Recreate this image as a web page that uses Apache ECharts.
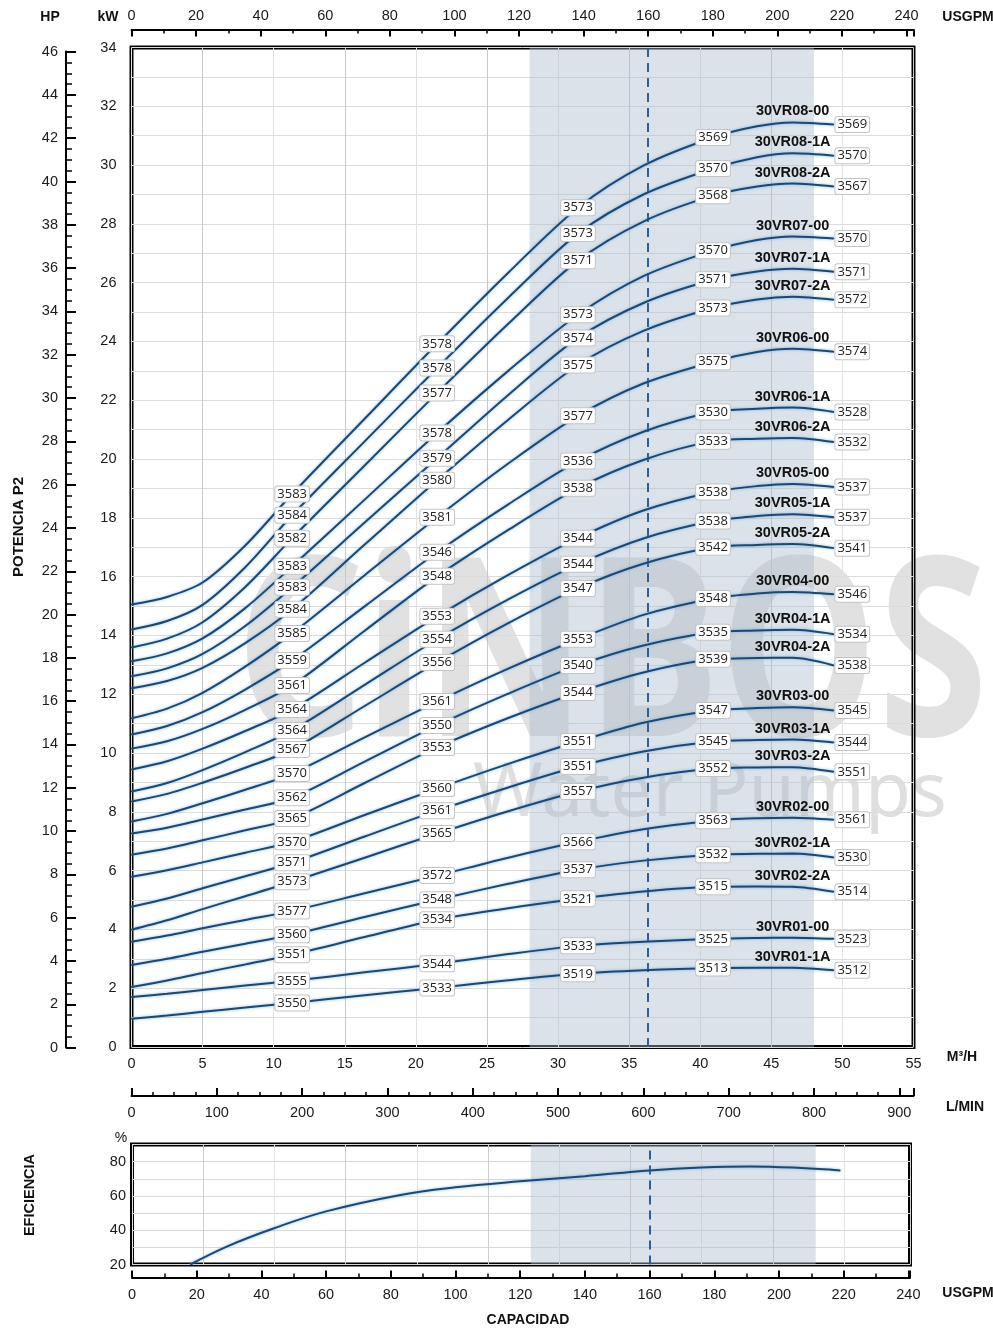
<!DOCTYPE html>
<html><head><meta charset="utf-8">
<script src="https://cdn.jsdelivr.net/npm/echarts@6/dist/echarts.min.js"></script>
<style>html,body{margin:0;padding:0;background:#fff}#c{width:993px;height:1335px}</style>
</head><body><div id="c"></div>
<script>
const NARROW = '"Liberation Sans","Arial",sans-serif';
const BOXFONT = '"Open Sans","Noto Sans",sans-serif';

// ---------- DATA ----------
const curveNames = ['30VR08-00','30VR08-1A','30VR08-2A','30VR07-00','30VR07-1A','30VR07-2A','30VR06-00','30VR06-1A','30VR06-2A','30VR05-00','30VR05-1A','30VR05-2A','30VR04-00','30VR04-1A','30VR04-2A','30VR03-00','30VR03-1A','30VR03-2A','30VR02-00','30VR02-1A','30VR02-2A','30VR01-00','30VR01-1A'];
// flow (m3/h) where power is read
const flowPts = [0, 2.5, 5, 8, 11.3, 16.4, 21.5, 26.5, 31.4, 36, 40.9, 44, 46.5, 49.4];
// power P2 (kW) read at each flow point: one array per flow point, one value per curve (same order as curveNames)
const kwQ0   = [15.05,14.20,13.59,13.12,12.61,12.20,11.18,10.63,10.15,9.44,8.69,8.35,7.67,7.26,6.54,5.79,4.77,3.99,3.58,2.79,2.04,1.70,0.96];
const kwQ2_5 = [15.31,14.49,13.89,13.39,12.88,12.45,11.51,10.92,10.40,9.72,8.98,8.61,7.93,7.46,6.75,6.01,5.05,4.31,3.79,3.00,2.26,1.81,1.07];
const kwQ5   = [15.80,15.04,14.45,13.90,13.37,12.90,12.05,11.39,10.82,10.15,9.42,8.99,8.29,7.74,7.03,6.28,5.40,4.69,4.04,3.24,2.52,1.94,1.20];
const kwQ8   = [17.06,16.32,15.65,14.93,14.32,13.74,12.94,12.16,11.47,10.75,10.03,9.50,8.75,8.08,7.37,6.61,5.81,5.13,4.32,3.51,2.81,2.09,1.34];
const kwQ11  = [18.81,18.09,17.31,16.35,15.64,14.89,14.07,13.15,12.30,11.48,10.77,10.12,9.30,8.48,7.77,6.98,6.27,5.62,4.63,3.82,3.14,2.25,1.50];
const kwQ16  = [21.37,20.60,19.78,18.62,17.84,17.09,16.05,14.99,14.16,13.07,12.32,11.60,10.53,9.71,8.98,7.89,7.16,6.44,5.23,4.42,3.74,2.54,1.76];
const kwQ21  = [23.92,23.10,22.25,20.89,20.03,19.28,18.02,16.83,16.01,14.65,13.87,13.08,11.75,10.94,10.19,8.79,8.04,7.26,5.83,5.01,4.33,2.83,2.01];
const kwQ26  = [26.34,25.49,24.60,23.00,22.18,21.34,19.85,18.46,17.59,16.06,15.23,14.42,12.87,12.02,11.19,9.63,8.83,8.02,6.44,5.55,4.72,3.16,2.27];
const kwQ31  = [28.55,27.67,26.75,24.91,24.12,23.20,21.47,19.93,19.01,17.31,16.42,15.60,13.87,12.98,12.06,10.39,9.54,8.69,6.98,6.03,5.04,3.44,2.49];
const kwQ36  = [29.98,29.00,28.08,26.22,25.31,24.36,22.57,20.93,19.97,18.25,17.30,16.44,14.70,13.66,12.74,11.03,10.05,9.16,7.41,6.34,5.29,3.58,2.61];
const kwQ41  = [30.94,29.88,28.96,27.09,26.10,25.14,23.31,21.60,20.61,18.88,17.89,17.00,15.26,14.11,13.19,11.45,10.39,9.47,7.70,6.54,5.45,3.68,2.69];
const kwQ44  = [31.32,30.27,29.27,27.45,26.38,25.43,23.64,21.71,20.69,19.08,18.06,17.08,15.43,14.17,13.23,11.53,10.44,9.51,7.78,6.57,5.46,3.71,2.70];
const kwQ46  = [31.45,30.40,29.37,27.57,26.47,25.52,23.75,21.75,20.72,19.15,18.12,17.11,15.48,14.19,13.24,11.56,10.46,9.52,7.80,6.58,5.45,3.72,2.70];
const kwQ49  = [31.38,30.32,29.27,27.50,26.37,25.42,23.65,21.60,20.58,19.05,18.02,16.97,15.40,14.04,12.98,11.45,10.36,9.36,7.73,6.45,5.28,3.68,2.61];
// speed labels (rpm) shown on the curves
const rpmQ11 = [3583,3584,3582,3583,3583,3584,3585,3559,3561,3564,3564,3567,3570,3562,3565,3570,3571,3573,3577,3560,3551,3555,3550];
const rpmQ21 = [3578,3578,3577,3578,3579,3580,3581,3546,3548,3553,3554,3556,3561,3550,3553,3560,3561,3565,3572,3548,3534,3544,3533];
const rpmQ31 = [3573,3573,3571,3573,3574,3575,3577,3536,3538,3544,3544,3547,3553,3540,3544,3551,3551,3557,3566,3537,3521,3533,3519];
const rpmQ41 = [3569,3570,3568,3570,3571,3573,3575,3530,3533,3538,3538,3542,3548,3535,3539,3547,3545,3552,3563,3532,3515,3525,3513];
const rpmQ49 = [3569,3570,3567,3570,3571,3572,3574,3528,3532,3537,3537,3541,3546,3534,3538,3545,3544,3551,3561,3530,3514,3523,3512];
// efficiency curve
const effFlowUsgpm = [18, 30, 43.7, 60, 83, 100, 120, 140, 160, 176, 191, 207, 219];
const effPct       = [20, 31, 41, 51, 60.6, 65, 68.5, 71.5, 74.9, 76.6, 77.2, 76.3, 74.9];
// ranges / ticks
const flowMaxM3h = 55;
const usgpmPerM3h = 4.402867;
const lpmPerM3h = 1000/60;
const shadeRangeM3h = [28, 48];
const bepUsgpm = 160;
const kwRange = [0, 34];
const hpRange = [0, 46];
const effRange = [20, 90];

// ---------- BUILD ----------
const kwCols = [kwQ0,kwQ2_5,kwQ5,kwQ8,kwQ11,kwQ16,kwQ21,kwQ26,kwQ31,kwQ36,kwQ41,kwQ44,kwQ46,kwQ49];
const rpmCols = {4: rpmQ11, 6: rpmQ21, 8: rpmQ31, 10: rpmQ41, 13: rpmQ49};
const NAME_IDX = 12, END_IDX = 13;
const lineCol = '#1b4874';
const lineStyle = {color: lineCol, width: 2, shadowColor: 'rgba(90,160,225,0.75)', shadowBlur: 3};
const boxLabel = {show: true, fontFamily: BOXFONT, fontSize: 13, color: '#222', backgroundColor: '#fff',
  borderColor: '#c4c4c4', borderWidth: 1, borderRadius: 2, padding: [1, 2, 0, 2], lineHeight: 14};
const axisText = {fontFamily: NARROW, fontSize: 14.5, color: '#1a1a1a'};
const mult = (step) => (v) => (Math.abs(v / step - Math.round(v / step)) < 1e-6 ? String(Math.round(v)) : '');

const curveSeries = curveNames.map((name, i) => ({
  type: 'line', name, xAxisIndex: 0, yAxisIndex: 0, smooth: 0.3, symbol: 'circle', symbolSize: 1,
  z: 5, silent: true, lineStyle, itemStyle: {color: lineCol}, label: {show: false},
  emphasis: {disabled: true},
  data: flowPts.map((q, j) => {
    const item = {value: [q, kwCols[j][i]]};
    if (rpmCols[j]) {
      item.label = Object.assign({}, boxLabel, {position: j === END_IDX ? 'right' : 'inside', distance: j === END_IDX ? 1 : 0,
        formatter: String(rpmCols[j][i])});
    }
    if (j === NAME_IDX) {
      item.label = {show: true, position: 'top', distance: 3, formatter: name, fontFamily: NARROW,
        fontWeight: 'bold', fontSize: 14.5, color: '#111'};
    }
    return item;
  })
}));

const bepM3h = bepUsgpm / usgpmPerM3h;
const shadeStyle = {color: 'rgba(170,185,205,0.42)'};
const bepLine = {silent: true, symbol: ['none', 'none'], label: {show: false},
  lineStyle: {type: [9, 6], color: '#2b5f99', width: 2}, data: [{xAxis: bepM3h}]};

const effUsgpmMax = 240.5;
const titleFont = 'bold 14px ' + NARROW;
const ctr = {textAlign: 'center', textVerticalAlign: 'middle', align: 'center', verticalAlign: 'middle'};

const option = {
  animation: false,
  backgroundColor: '#fff',
  grid: [
    {left: 131.5, top: 47.5, width: 782, height: 999.5, show: true, borderColor: '#000', borderWidth: 4},
    {left: 66, top: 51.6, width: 1, height: 996},
    {left: 132, top: 1144.5, width: 778, height: 120, show: true, borderColor: '#000', borderWidth: 4},
    {left: 131.5, top: 1086, width: 782, height: 10}
  ],
  xAxis: [
    {gridIndex: 0, type: 'value', position: 'bottom', min: 0, max: flowMaxM3h, interval: 5,
      axisLine: {show: false}, axisTick: {show: false},
      axisLabel: Object.assign({margin: 9}, axisText),
      splitLine: {show: true, lineStyle: {color: ['#e2e2e2', '#c9c9c9'], width: 1}}},
    {gridIndex: 0, type: 'value', position: 'top', offset: 18, min: 0, max: flowMaxM3h * usgpmPerM3h, interval: 20,
      axisLine: {show: true, lineStyle: {color: '#000', width: 2}},
      axisTick: {show: true, inside: true, length: 7, lineStyle: {color: '#000', width: 2}},
      minorTick: {show: true, splitNumber: 2, length: 4, lineStyle: {color: '#000', width: 1.5}},
      axisLabel: Object.assign({margin: 6, formatter: mult(20)}, axisText),
      splitLine: {show: false}},
    {gridIndex: 1, type: 'value', show: false, min: 0, max: 1},
    {gridIndex: 3, type: 'value', position: 'bottom', min: 0, max: flowMaxM3h * lpmPerM3h, interval: 100,
      axisLine: {show: true, lineStyle: {color: '#000', width: 2}},
      axisTick: {show: true, inside: true, length: 8, lineStyle: {color: '#000', width: 2}},
      minorTick: {show: true, splitNumber: 4, length: 4, lineStyle: {color: '#000', width: 1.5}},
      axisLabel: Object.assign({margin: 9, formatter: mult(100)}, axisText),
      splitLine: {show: false}},
    {gridIndex: 2, type: 'value', position: 'bottom', offset: 13, min: 0, max: effUsgpmMax, interval: 20,
      axisLine: {show: true, lineStyle: {color: '#000', width: 2}},
      axisTick: {show: true, inside: true, length: 7, lineStyle: {color: '#000', width: 2}},
      minorTick: {show: true, splitNumber: 2, length: 4, lineStyle: {color: '#000', width: 1.5}},
      axisLabel: Object.assign({margin: 10, formatter: mult(20)}, axisText),
      splitLine: {show: false}},
    {gridIndex: 2, type: 'value', position: 'top', min: 0, max: effUsgpmMax / usgpmPerM3h, interval: 5,
      axisLine: {show: false}, axisTick: {show: false}, axisLabel: {show: false},
      splitLine: {show: true, lineStyle: {color: ['#e4e4e4', '#cfcfcf'], width: 1}}}
  ],
  yAxis: [
    {gridIndex: 0, type: 'value', min: kwRange[0], max: kwRange[1], interval: 1,
      axisLine: {show: false}, axisTick: {show: false},
      axisLabel: Object.assign({margin: 15, formatter: mult(2)}, axisText),
      splitLine: {show: true, lineStyle: {color: '#dcdcdc', width: 1}}},
    {gridIndex: 1, type: 'value', position: 'left', min: hpRange[0], max: hpRange[1], interval: 2,
      axisLine: {show: true, lineStyle: {color: '#000', width: 2}},
      axisTick: {show: true, inside: true, length: 10, lineStyle: {color: '#000', width: 2}},
      minorTick: {show: true, splitNumber: 4, length: 6, lineStyle: {color: '#000', width: 1.5}},
      axisLabel: Object.assign({margin: 8}, axisText),
      splitLine: {show: false}},
    {gridIndex: 3, type: 'value', show: false, min: 0, max: 1},
    {gridIndex: 2, type: 'value', min: effRange[0], max: effRange[1], interval: 10,
      axisLine: {show: false}, axisTick: {show: false},
      axisLabel: Object.assign({margin: 6, formatter: mult(20)}, axisText),
      splitLine: {show: true, lineStyle: {color: '#d9d9d9', width: 1}}}
  ],
  graphic: [
    {type: 'text', z: -1, x: 612, y: 665, scaleX: 0.8, silent: true,
      style: Object.assign({text: 'CiNBOS', font: 'bold 250px "Noto Sans"', fill: 'rgba(120,120,120,0.22)'}, ctr)},
    {type: 'text', z: -1, x: 710, y: 795, silent: true,
      style: Object.assign({text: 'Water Pumps', font: '75px "Noto Sans"', fill: 'rgba(120,120,120,0.24)'}, ctr)},
    ...[
      ['HP', 50, 17], ['kW', 108, 17], ['USGPM', 968, 17], ['M³/H', 962, 1057], ['L/MIN', 965, 1107],
      ['USGPM', 968, 1293], ['CAPACIDAD', 528, 1320]
    ].map(([t, x, y]) => ({type: 'text', x, y, silent: true,
      style: Object.assign({text: t, font: titleFont, fill: '#111'}, ctr)})),
    {type: 'text', x: 121, y: 1138, silent: true,
      style: Object.assign({text: '%', font: '14px ' + NARROW, fill: '#111'}, ctr)},
    {type: 'text', x: 19, y: 527, rotation: Math.PI / 2, silent: true,
      style: Object.assign({text: 'POTENCIA P2', font: 'bold 15px ' + NARROW, fill: '#111'}, ctr)},
    {type: 'text', x: 30, y: 1195, rotation: Math.PI / 2, silent: true,
      style: Object.assign({text: 'EFICIENCIA', font: 'bold 14.5px ' + NARROW, fill: '#111'}, ctr)}
  ],
  series: [
    {type: 'line', xAxisIndex: 0, yAxisIndex: 0, z: 2, silent: true, showSymbol: false, data: [[0, 0]],
      lineStyle: {opacity: 0},
      markArea: {silent: true, itemStyle: shadeStyle, data: [[{xAxis: shadeRangeM3h[0]}, {xAxis: shadeRangeM3h[1]}]]},
      markLine: bepLine},
    ...curveSeries,
    {type: 'line', xAxisIndex: 5, yAxisIndex: 3, z: 2, silent: true, showSymbol: false, data: [[0, 20]],
      lineStyle: {opacity: 0},
      markArea: {silent: true, itemStyle: shadeStyle, data: [[{xAxis: shadeRangeM3h[0]}, {xAxis: shadeRangeM3h[1]}]]},
      markLine: bepLine},
    {type: 'line', xAxisIndex: 4, yAxisIndex: 3, z: 5, silent: true, smooth: 0.4, symbol: 'none',
      lineStyle, data: effFlowUsgpm.map((q, k) => [q, effPct[k]])}
  ]
};
echarts.init(document.getElementById('c'), null, {renderer: 'canvas'}).setOption(option);
</script></body></html>
